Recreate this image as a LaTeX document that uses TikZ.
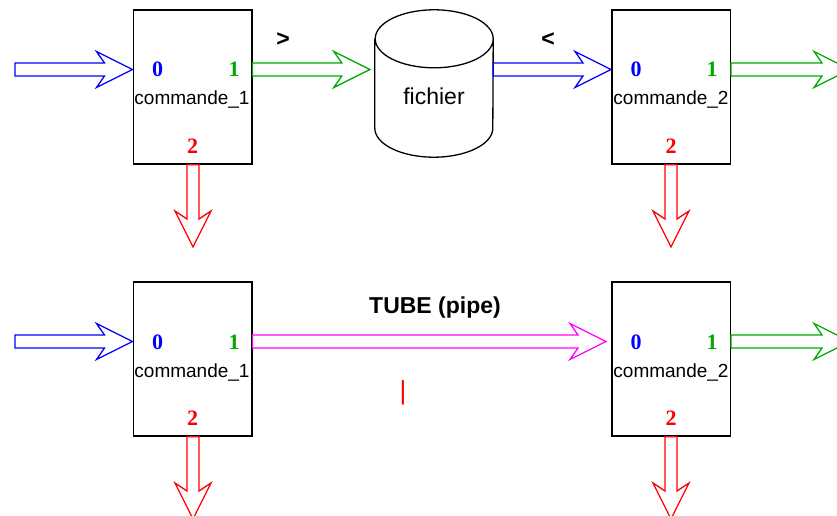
\documentclass[tikz,border=0pt]{standalone}
\usepackage{fontspec}
\setmainfont{Liberation Sans}
\newfontfamily\serifbold{Liberation Serif}
\usetikzlibrary{calc}
\definecolor{cblue}{RGB}{0,0,255}
\definecolor{cgreen}{RGB}{0,170,0}
\definecolor{cred}{RGB}{255,0,0}
\definecolor{cmag}{RGB}{255,0,255}
\newcommand\harrow[4][0pt]{\draw[#2,flexline] let \p1=(#3), \p2=(#4) in
  ({\x1},{\y1+6.5pt}) -- ({\x2-#1-28pt},{\y1+6.5pt}) -- ({\x2-#1-36pt},{\y1+18pt}) --
  ({\x2-#1},{\y1}) -- ({\x2-#1-36pt},{\y1-18pt}) -- ({\x2-#1-28pt},{\y1-6.5pt}) --
  ({\x1},{\y1-6.5pt}) -- cycle;}
\newcommand\varrow[3]{\draw[#1,flexline] let \p1=(#2), \p2=(#3) in
  ({\x1-6pt},{\y1}) -- ({\x1-6pt},{\y2+28pt}) -- ({\x1-18pt},{\y2+36pt}) --
  ({\x1},{\y2}) -- ({\x1+18pt},{\y2+36pt}) -- ({\x1+6pt},{\y2+28pt}) --
  ({\x1+6pt},{\y1}) -- cycle;}
\begin{document}
\begin{tikzpicture}[x=1pt,y=-1pt,
  flexline/.style={line width=1.3pt,line join=miter},
  cmdbox/.style={draw,line width=1.5pt,minimum width=118.5pt,minimum height=154pt,inner sep=0pt},
  port/.style={font=\serifbold\bfseries\fontsize{22}{24}\selectfont,anchor=base,inner sep=0pt},
  cmdtxt/.style={font=\fontsize{19}{22}\selectfont,anchor=base,inner sep=0pt},
  optxt/.style={font=\bfseries\fontsize{23}{26}\selectfont,anchor=base,inner sep=0pt}]
\useasboundingbox (0,0) rectangle (837,516);
% top row
\node[cmdbox] (c1) at (192.5,87) {};
\node[cmdbox] (c2) at (671,87) {};
\node[minimum width=118pt,minimum height=147pt,inner sep=0pt] (fichier) at (434,83.5) {};
\draw[line width=1.3pt] ([yshift=-29pt]fichier.north west) -- ([yshift=29pt]fichier.south west)
  arc[start angle=180,end angle=360,x radius=59pt,y radius=29pt]
  -- ([yshift=-29pt]fichier.north east)
  arc[start angle=0,end angle=180,x radius=59pt,y radius=29pt]
  arc[start angle=180,end angle=360,x radius=59pt,y radius=29pt];
\node[font=\fontsize{23}{26}\selectfont,anchor=base,inner sep=0pt] (fichtxt) at (434,105) {fichier};
\node[port,cblue] (p10) at (157.5,77) {0};
\node[port,cgreen] (p11) at (234,77) {1};
\node[cmdtxt] (t1) at (192,105) {commande\_1};
\node[port,cred] (p12) at (192.5,153) {2};
\node[port,cblue] (p20) at (636,77) {0};
\node[port,cgreen] (p21) at (712,77) {1};
\node[cmdtxt] (t2) at (671,105) {commande\_2};
\node[port,cred] (p22) at (671,153) {2};
\node[optxt] (gt) at (283,47) {>};
\node[optxt] (lt) at (548,47) {<};
\coordinate (in1) at (15,69.5);
\coordinate (out2) at (850,69.5);
\coordinate (err1) at (193,247);
\coordinate (err2) at (671,247);
\harrow{cblue}{in1}{c1.west}
\harrow[5pt]{cgreen}{in1 -| c1.east}{fichier.west}
\harrow{cblue}{in1 -| fichier.east}{c2.west}
\harrow{cgreen}{in1 -| c2.east}{out2}
\varrow{cred}{c1.south -| err1}{err1}
\varrow{cred}{c2.south -| err2}{err2}
% bottom row
\node[cmdbox] (c3) at (192.5,359) {};
\node[cmdbox] (c4) at (671,359) {};
\node[port,cblue] (p30) at (157.5,349) {0};
\node[port,cgreen] (p31) at (234,349) {1};
\node[cmdtxt] (t3) at (192,377) {commande\_1};
\node[port,cred] (p32) at (192.5,425) {2};
\node[port,cblue] (p40) at (636,349) {0};
\node[port,cgreen] (p41) at (712,349) {1};
\node[cmdtxt] (t4) at (671,377) {commande\_2};
\node[port,cred] (p42) at (671,425) {2};
\node[optxt] (tube) at (435,313) {TUBE (pipe)};
\node[font=\fontsize{26}{28}\selectfont,anchor=base,inner sep=0pt,cred] (bar) at (403,399.5) {|};
\coordinate (in3) at (15,341.5);
\coordinate (out4) at (850,341.5);
\coordinate (err3) at (193,519);
\coordinate (err4) at (671,519);
\harrow{cblue}{in3}{c3.west}
\harrow[5pt]{cmag}{in3 -| c3.east}{c4.west}
\harrow{cgreen}{in3 -| c4.east}{out4}
\varrow{cred}{c3.south -| err3}{err3}
\varrow{cred}{c4.south -| err4}{err4}
\end{tikzpicture}
\end{document}
